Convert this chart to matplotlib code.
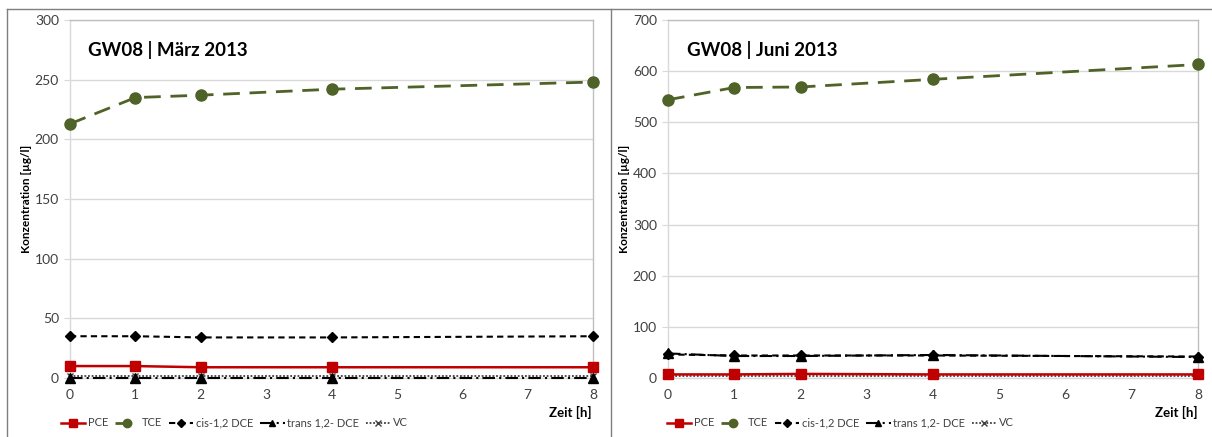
import matplotlib.pyplot as plt
from matplotlib.lines import Line2D

plt.rcParams['font.family'] = ['Lato', 'DejaVu Sans']

zeit = [0, 1, 2, 4, 8]

# GW08 | März 2013
maerz_pce = [10, 10, 9, 9, 9]
maerz_tce = [213, 235, 237, 242, 248]
maerz_cis = [35, 35, 34, 34, 35]
maerz_trans = [0.3, 0.3, 0.3, 0.3, 0.3]
maerz_vc = [1.5, 1.5, 1.5, 1.5, 1.5]

# GW08 | Juni 2013
juni_pce = [7, 7, 8, 7, 7]
juni_tce = [544, 568, 569, 584, 613]
juni_cis = [46, 44, 44, 44, 42]
juni_trans = [48, 43, 43, 45, 41]
juni_vc = [3, 3, 3, 3, 3]

titles = ["GW08 | März 2013", "GW08 | Juni 2013"]
ymax = [300, 700]
ystep = [50, 100]

text_col = '#404040'
grid_col = '#d9d9d9'
frame_col = '#bfbfbf'


def draw_panel(ax, pce, tce, cis, trans, vc, title, top, step):
    ax.plot(zeit, vc, color='#404040', ls=(0, (1, 1)), lw=1.3, marker='x',
            ms=5, mew=1, clip_on=False, zorder=3, label='VC')
    ax.plot(zeit, trans, color='black', ls=(0, (6, 2, 1, 2)), lw=1.5, marker='^',
            ms=6.5, clip_on=False, zorder=4, label='trans 1,2- DCE')
    ax.plot(zeit, cis, color='black', ls=(0, (3, 2)), lw=1.5, marker='D',
            ms=5, clip_on=False, zorder=5, label='cis-1,2 DCE')
    ax.plot(zeit, tce, color='#4f6228', ls=(0, (6, 3.5)), lw=2, marker='o',
            ms=8, clip_on=False, zorder=5, label='TCE')
    ax.plot(zeit, pce, color='#c00000', ls='-', lw=1.8, marker='s',
            ms=7, clip_on=False, zorder=6, label='PCE')

    ax.set_xlim(0, 8)
    ax.set_ylim(0, top)
    ax.set_xticks(range(0, 9))
    ax.set_yticks(range(0, top + 1, step))
    ax.yaxis.grid(True, color=grid_col, lw=1)
    ax.set_axisbelow(True)
    for s in ax.spines.values():
        s.set_color(frame_col)
        s.set_linewidth(1)
    ax.spines['left'].set_color(grid_col)
    ax.spines['bottom'].set_color(grid_col)
    ax.tick_params(axis='x', direction='in', length=3, color=grid_col,
                   labelcolor=text_col, labelsize=10, pad=8)
    ax.tick_params(axis='y', direction='out', length=4, color=grid_col,
                   labelcolor=text_col, labelsize=10, pad=4)
    ax.set_ylabel('Konzentration [µg/l]', fontsize=8.5, fontweight='bold',
                  color='black', labelpad=2)
    ax.text(0.035, 0.915, title, transform=ax.transAxes, fontsize=13.5,
            fontweight='bold', va='center', ha='left')


fig = plt.figure(figsize=(12.12, 4.37), dpi=100)
ax1 = fig.add_axes([70 / 1212, 59 / 437, 523 / 1212, 358 / 437])
ax2 = fig.add_axes([668 / 1212, 59 / 437, 530 / 1212, 358 / 437])

draw_panel(ax1, maerz_pce, maerz_tce, maerz_cis, maerz_trans, maerz_vc,
           titles[0], ymax[0], ystep[0])
draw_panel(ax2, juni_pce, juni_tce, juni_cis, juni_trans, juni_vc,
           titles[1], ymax[1], ystep[1])

order = ['PCE', 'TCE', 'cis-1,2 DCE', 'trans 1,2- DCE', 'VC']
for ax, x0, xr in [(ax1, 55, 592), (ax2, 661, 1198)]:
    handles, labels = ax.get_legend_handles_labels()
    hmap = dict(zip(labels, handles))
    fig.legend([hmap[k] for k in order], order, loc='center left',
               bbox_to_anchor=(x0 / 1212, 1 - 423 / 437), ncol=5,
               frameon=False, fontsize=8, handlelength=2.2, markerscale=0.75,
               handletextpad=0.25, columnspacing=0.6, borderpad=0,
               labelcolor=text_col)
    fig.text(xr / 1212, 1 - 412 / 437, 'Zeit [h]', fontsize=9.5,
             fontweight='bold', ha='right', va='center')

# outer chart frames
fig.add_artist(Line2D([7 / 1212, 1], [1 - 9 / 437, 1 - 9 / 437],
                      color='#7f7f7f', lw=1))
fig.add_artist(Line2D([7 / 1212, 7 / 1212], [0, 1 - 9 / 437],
                      color='#7f7f7f', lw=1))
fig.add_artist(Line2D([611 / 1212, 611 / 1212], [0, 1 - 9 / 437],
                      color='#7f7f7f', lw=1))

fig.savefig('out.png', dpi=100)
